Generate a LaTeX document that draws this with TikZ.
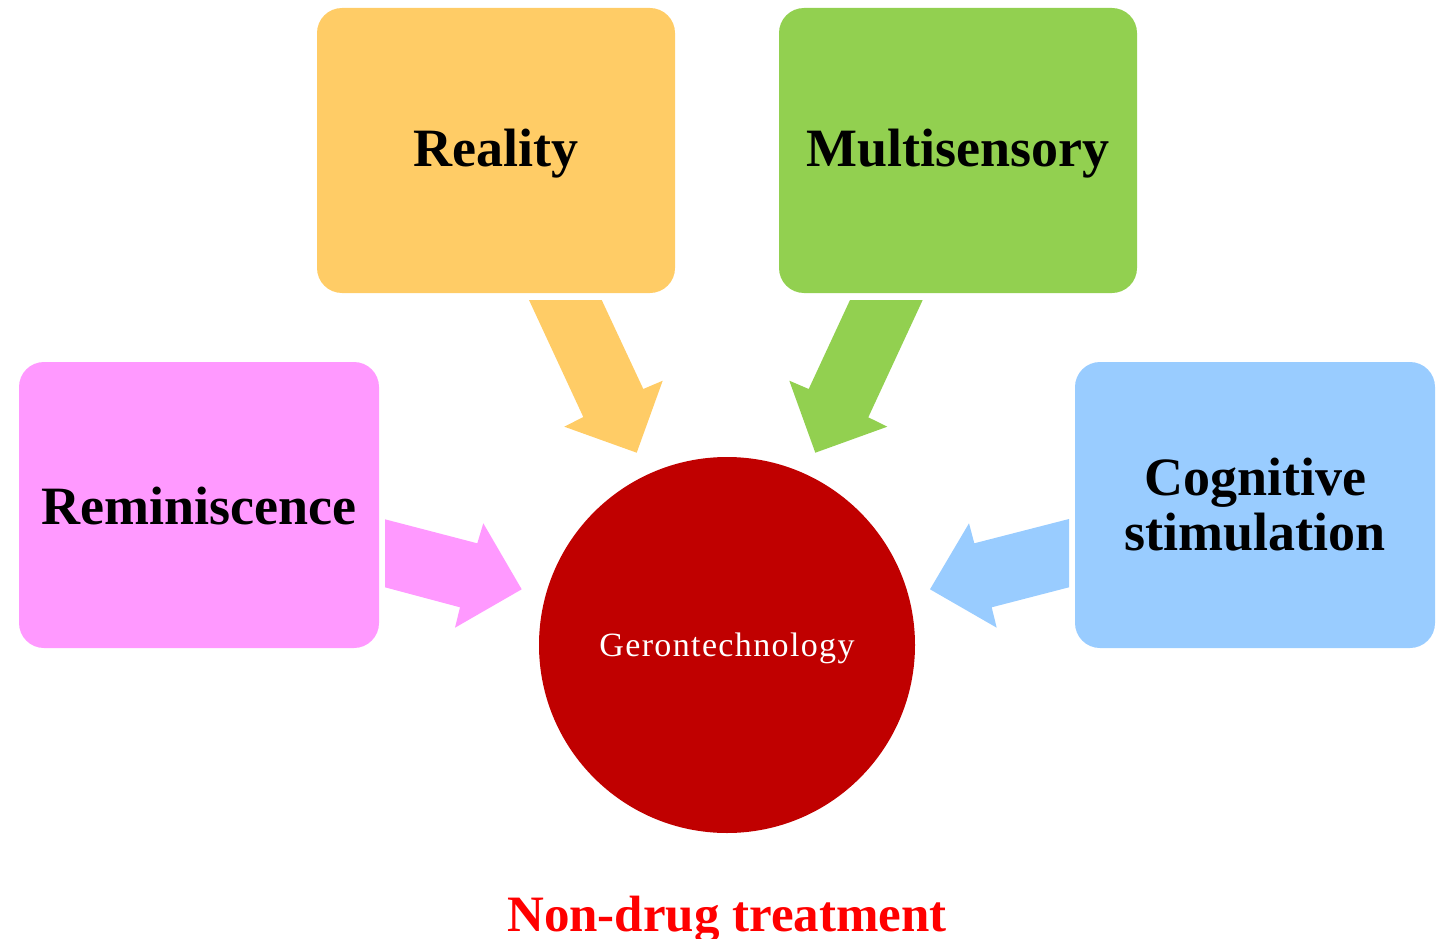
\documentclass[tikz,border=0pt]{standalone}
\usepackage{fontspec}
\setmainfont{Liberation Serif}
\definecolor{cyellow}{HTML}{FFCC66}
\definecolor{cgreen}{HTML}{92D050}
\definecolor{cpink}{HTML}{FF99FF}
\definecolor{cblue}{HTML}{99CCFF}
\definecolor{cdark}{HTML}{C00000}
\definecolor{cred}{HTML}{FF0000}
\begin{document}
\begin{tikzpicture}[x=1pt,y=-1pt,
  box/.style={rounded corners=25pt,inner sep=0pt,minimum width=358pt,minimum height=285pt,
     font=\fontsize{54}{58}\selectfont\bfseries,align=center,text=black},
  lbl/.style={font=\fontsize{54}{58}\selectfont\bfseries,align=center,text=black,inner sep=0pt}]
\useasboundingbox (0,0) rectangle (1448,939);
\node[box,fill=cyellow] (reality) at (496,150.5) {};
\node[lbl] at ([yshift=-3pt]reality.center) {Reality};
\node[box,fill=cgreen] (multi) at (958,150.5) {};
\node[lbl] at ([yshift=-3pt]multi.center) {Multisensory};
\node[box,fill=cpink,minimum width=360pt,minimum height=286pt] (remi) at (199,505) {};
\node[lbl] at ([yshift=-1pt]remi.center) {Reminiscence};
\node[box,fill=cblue,minimum width=360pt,minimum height=286pt] (cog) at (1255,505) {};
\node[lbl] at ([yshift=0pt]cog.center) {Cognitive\\[-3pt]stimulation};
\node[circle,fill=cdark,minimum size=376pt,inner sep=0pt] (geron) at (727,645) {};
\node[text=white,inner sep=0pt,font=\fontsize{34}{40}\selectfont\addfontfeature{LetterSpace=4}] at ([yshift=-3pt]geron.center) {Gerontechnology};
\node[text=cred,font=\fontsize{51}{54}\selectfont\bfseries,anchor=base] (title) at (727,931) {Non-drug treatment};
% block arrows
\fill[cyellow] (529,300) -- (601.7,300) -- (643.3,389) -- (662.7,380.7) -- (636.7,452.7) -- (564.3,426.7) -- (583.3,417) -- cycle;
\fill[cgreen] (850,300) -- (922.7,300) -- (868.3,417.3) -- (887.3,426.7) -- (815.3,452.7) -- (789.3,380.7) -- (808.7,389) -- cycle;
\fill[cpink] (385,519.3) -- (477.3,543.3) -- (483.3,523.3) -- (521.7,589.3) -- (455,627.7) -- (460,607.3) -- (385,587.3) -- cycle;
\fill[cblue] (1069,519) -- (974.3,543.3) -- (969,523.3) -- (930,589.3) -- (996.7,627.7) -- (991.7,607.3) -- (1069,587.3) -- cycle;
\end{tikzpicture}
\end{document}
